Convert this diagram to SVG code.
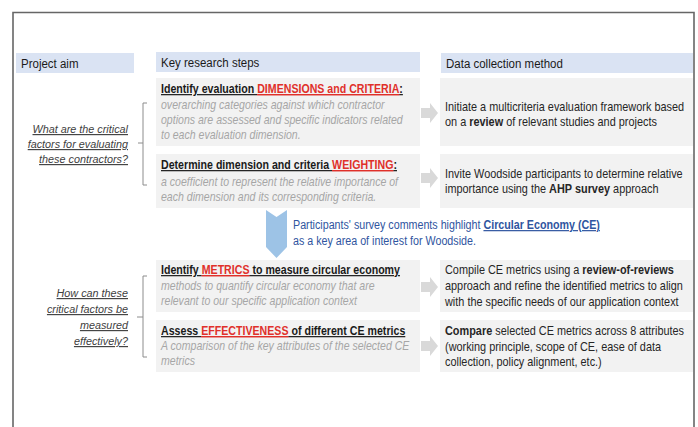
<svg xmlns="http://www.w3.org/2000/svg" width="698" height="427" viewBox="0 0 698 427">
  <style>
    text { font-family: "Liberation Sans", Arial, sans-serif; }
    .frame { fill: none; stroke: #666666; stroke-width: 1.6; }
    .head { fill: #dae3f3; }
    .head-t { font-size: 12.5px; fill: #1a1a1a; }
    .box { fill: #f2f2f2; }
    .title { font-size: 12px; font-weight: bold; fill: #1a1a1a; text-decoration: underline; }
    .red { fill: #e0302a; text-decoration: underline; }
    .desc { font-size: 12px; font-style: italic; fill: #a6a6a6; }
    .method { font-size: 12px; fill: #262626; }
    .b { font-weight: bold; }
    .aim { font-size: 11.5px; font-style: italic; fill: #404040; text-decoration: underline; text-anchor: end; }
    .brace { fill: none; stroke: #8c8c8c; stroke-width: 1; }
    .flow { fill: #d9d9d9; }
    .note { font-size: 12px; fill: #2f55a0; }
    .note-key { font-weight: bold; text-decoration: underline; }
  </style>
  <defs>
    <path id="flow-arrow" d="M0,-5 H9 V-10 L17,0 L9,10 V5 H0 Z"/>
  </defs>

  <rect width="698" height="427" fill="#ffffff"/>
  <!-- outer frame, open at the bottom -->
  <path class="frame" d="M13,430 V12.5 H694 V430"/>

  <!-- column headers -->
  <g id="header-aim">
    <rect class="head" x="16" y="53" width="118" height="20"/>
    <text class="head-t" transform="matrix(0.92 0 0 1 21 67.5)">Project aim</text>
  </g>
  <g id="header-steps">
    <rect class="head" x="156" y="52" width="264" height="20"/>
    <text class="head-t" transform="matrix(0.92 0 0 1 161 66.5)">Key research steps</text>
  </g>
  <g id="header-method">
    <rect class="head" x="441" y="53" width="252" height="20"/>
    <text class="head-t" transform="matrix(0.92 0 0 1 446 67.5)">Data collection method</text>
  </g>

  <!-- project aims -->
  <g id="aim-critical-factors">
    <text class="aim" transform="matrix(0.94 0 0 1 128 133)">What are the critical</text>
    <text class="aim" transform="matrix(0.94 0 0 1 128 148)">factors for evaluating</text>
    <text class="aim" transform="matrix(0.94 0 0 1 128 163)">these contractors?</text>
  </g>
  <g id="aim-measurement">
    <text class="aim" transform="matrix(0.94 0 0 1 128 297)">How can these</text>
    <text class="aim" transform="matrix(0.94 0 0 1 128 313)">critical factors be</text>
    <text class="aim" transform="matrix(0.94 0 0 1 128 329)">measured</text>
    <text class="aim" transform="matrix(0.94 0 0 1 128 345)">effectively?</text>
  </g>

  <!-- research steps -->
  <g id="step-dimensions">
    <rect class="box" x="156" y="78" width="264" height="68"/>
    <text class="title" transform="matrix(0.885 0 0 1 161 93)">Identify evaluation <tspan class="red">DIMENSIONS and CRITERIA</tspan>:</text>
    <text class="desc" transform="matrix(0.88 0 0 1 161 109)">overarching categories against which contractor</text>
    <text class="desc" transform="matrix(0.88 0 0 1 161 124)">options are assessed and specific indicators related</text>
    <text class="desc" transform="matrix(0.88 0 0 1 161 139)">to each evaluation dimension.</text>
  </g>
  <g id="step-weighting">
    <rect class="box" x="156" y="154" width="264" height="54"/>
    <text class="title" transform="matrix(0.885 0 0 1 161 169)">Determine dimension and criteria <tspan class="red">WEIGHTING</tspan>:</text>
    <text class="desc" transform="matrix(0.88 0 0 1 161 186)">a coefficient to represent the relative importance of</text>
    <text class="desc" transform="matrix(0.88 0 0 1 161 201)">each dimension and its corresponding criteria.</text>
  </g>
  <g id="step-metrics">
    <rect class="box" x="156" y="260" width="264" height="52"/>
    <text class="title" transform="matrix(0.885 0 0 1 161 274)">Identify <tspan class="red">METRICS</tspan> to measure circular economy</text>
    <text class="desc" transform="matrix(0.88 0 0 1 161 290)">methods to quantify circular economy that are</text>
    <text class="desc" transform="matrix(0.88 0 0 1 161 305)">relevant to our specific application context</text>
  </g>
  <g id="step-effectiveness">
    <rect class="box" x="156" y="320" width="264" height="52"/>
    <text class="title" transform="matrix(0.885 0 0 1 161 335)">Assess <tspan class="red">EFFECTIVENESS</tspan> of different CE metrics</text>
    <text class="desc" transform="matrix(0.88 0 0 1 161 350)">A comparison of the key attributes of the selected CE</text>
    <text class="desc" transform="matrix(0.88 0 0 1 161 365)">metrics</text>
  </g>

  <!-- data collection methods -->
  <g id="method-review">
    <rect class="box" x="440" y="78" width="253" height="68"/>
    <text class="method" transform="matrix(0.908 0 0 1 445 111)">Initiate a multicriteria evaluation framework based</text>
    <text class="method" transform="matrix(0.908 0 0 1 445 126)">on a <tspan class="b">review</tspan> of relevant studies and projects</text>
  </g>
  <g id="method-ahp">
    <rect class="box" x="440" y="154" width="253" height="54"/>
    <text class="method" transform="matrix(0.908 0 0 1 445 178)">Invite Woodside participants to determine relative</text>
    <text class="method" transform="matrix(0.908 0 0 1 445 193)">importance using the <tspan class="b">AHP survey</tspan> approach</text>
  </g>
  <g id="method-review-of-reviews">
    <rect class="box" x="440" y="260" width="253" height="52"/>
    <text class="method" transform="matrix(0.908 0 0 1 445 274)">Compile CE metrics using a <tspan class="b">review-of-reviews</tspan></text>
    <text class="method" transform="matrix(0.908 0 0 1 445 290)">approach and refine the identified metrics to align</text>
    <text class="method" transform="matrix(0.908 0 0 1 445 306)">with the specific needs of our application context</text>
  </g>
  <g id="method-compare">
    <rect class="box" x="440" y="320" width="253" height="52"/>
    <text class="method" transform="matrix(0.908 0 0 1 445 335)"><tspan class="b">Compare</tspan> selected CE metrics across 8 attributes</text>
    <text class="method" transform="matrix(0.908 0 0 1 445 351)">(working principle, scope of CE, ease of data</text>
    <text class="method" transform="matrix(0.908 0 0 1 445 366)">collection, policy alignment, etc.)</text>
  </g>

  <!-- transition note -->
  <g id="note-ce">
    <path d="M266,210 L276.5,217 L287,210 V247 L276.5,258 L266,247 Z" fill="#9dc3e6"/>
    <text class="note" transform="matrix(0.892 0 0 1 293 229)">Participants' survey comments highlight <tspan class="note-key">Circular Economy (CE)</tspan></text>
    <text class="note" transform="matrix(0.892 0 0 1 293 245)">as a key area of interest for Woodside.</text>
  </g>

  <!-- connectors -->
  <g id="connectors">
    <path class="brace" d="M147,103 H143 V185 H147 M143,143 H138"/>
    <path class="brace" d="M147,276 H143 V357 H147 M143,317 H137"/>
    <use href="#flow-arrow" class="flow" x="421" y="113"/>
    <use href="#flow-arrow" class="flow" x="421" y="178"/>
    <use href="#flow-arrow" class="flow" x="421" y="287"/>
    <use href="#flow-arrow" class="flow" x="421" y="346"/>
  </g>
</svg>
